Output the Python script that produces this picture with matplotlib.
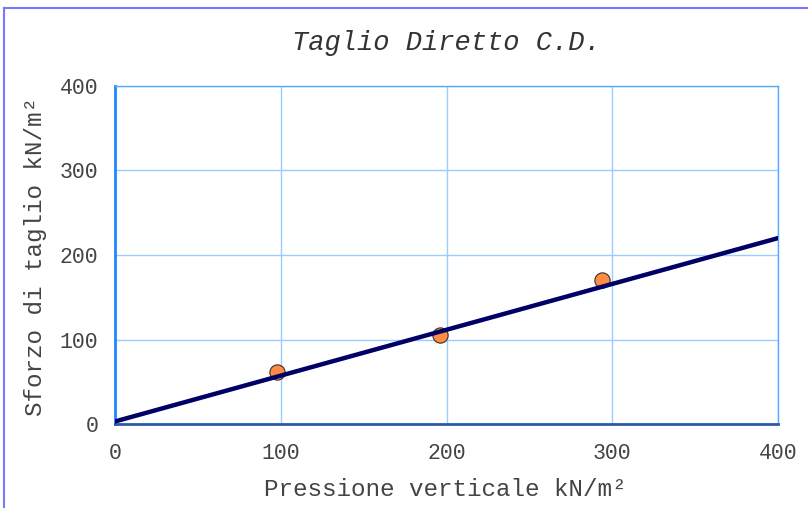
import matplotlib
matplotlib.use("Agg")
import matplotlib.pyplot as plt
from matplotlib.lines import Line2D

# Data
sigma_n = [98, 196, 294]          # Pressione verticale kN/m²
tau = [62, 105, 170]              # Sforzo di taglio kN/m²
fit_x = [0, 400]
fit_y = [3, 220]
x_ticks = [0, 100, 200, 300, 400]
y_ticks = [0, 100, 200, 300, 400]

plt.rcParams['font.family'] = ['Liberation Mono', 'DejaVu Sans Mono']

fig = plt.figure(figsize=(8.08, 5.08), dpi=100)
ax = fig.add_axes([115/808, 1-424/508, 663/808, 338/508])

ax.plot(fit_x, fit_y, color='#000066', lw=3.2, solid_capstyle='round', zorder=3)
ax.plot(sigma_n, tau, 'o', ms=11, mfc='#FF8C42', mec='#333333', mew=0.8, zorder=2)

ax.set_xlim(0, 400)
ax.set_ylim(0, 400)
ax.set_xticks(x_ticks)
ax.set_yticks(y_ticks)
ax.grid(True, color='#99CCFF', lw=1)
ax.set_axisbelow(True)
ax.tick_params(length=0, labelsize=15.5, labelcolor='#444444')
ax.tick_params(axis='x', pad=13.5)
ax.tick_params(axis='y', pad=12)

ax.spines['left'].set_color('#1E88FF')
ax.spines['left'].set_linewidth(2)
ax.spines['bottom'].set_color('#2A5CAA')
ax.spines['bottom'].set_linewidth(2)
ax.spines['top'].set_color('#55AAFF')
ax.spines['top'].set_linewidth(1)
ax.spines['right'].set_color('#55AAFF')
ax.spines['right'].set_linewidth(1)

fig.text(446/808, 1-43/508, 'Taglio Diretto C.D.', ha='center', va='center',
         fontsize=19.5, style='italic', color='#333333')
fig.text(445/808, 1-490/508, 'Pressione verticale kN/m²', ha='center', va='center',
         fontsize=17.5, color='#444444')
fig.text(36/808, 1-257/508, 'Sforzo di taglio kN/m²', ha='center', va='center',
         rotation=90, fontsize=17.5, color='#444444')

# figure frame (left and top edges)
fig.add_artist(Line2D([3.5/808, 3.5/808], [0, 1-8/508], color='#7777FF', lw=1.5,
                      transform=fig.transFigure))
fig.add_artist(Line2D([3.5/808, 1], [1-8/508, 1-8/508], color='#7777FF', lw=1.5,
                      transform=fig.transFigure))

fig.savefig('out.png', dpi=100)
